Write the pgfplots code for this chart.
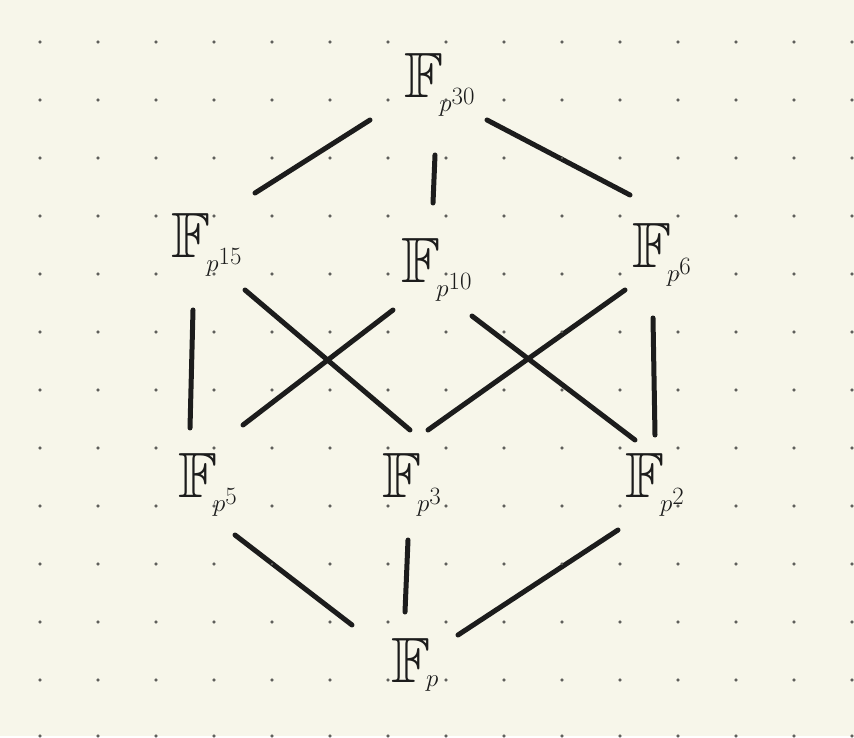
\documentclass[border=0pt]{standalone}
\usepackage{amssymb}
\usepackage{pgfplots}
\pgfplotsset{compat=1.18}
\definecolor{paper}{HTML}{F7F6EA}
\definecolor{ink}{HTML}{1C1C1C}
\definecolor{dotc}{HTML}{B8B8B0}
\begin{document}
\begin{tikzpicture}
\begin{axis}[width=854pt,height=736pt,scale only axis,hide axis,
  xmin=0,xmax=854,ymin=0,ymax=736,clip=true,
  edge/.style={color=ink,line width=5pt,line cap=round,no markers,solid}]
\addplot[fill=paper,draw=none,no markers] coordinates {(0,0)(854,0)(854,736)(0,736)} -- cycle;
\pgfplotsinvokeforeach{694,636,578,520,462,404,346,288,230,172,114,56,0}{
\addplot[only marks,mark=*,mark size=1.3pt,mark options={fill=dotc,draw=none,solid}] coordinates {(40,#1)(98,#1)(156,#1)(214,#1)(272,#1)(330,#1)(388,#1)(446,#1)(504,#1)(562,#1)(620,#1)(678,#1)(736,#1)(794,#1)(852,#1)};
}
\addplot[edge] coordinates {(370,616)(255,543)};
\addplot[edge] coordinates {(435,581)(433,533)};
\addplot[edge] coordinates {(487,616)(630,541)};
\addplot[edge] coordinates {(193,426)(190,308)};
\addplot[edge] coordinates {(245,446)(410,306)};
\addplot[edge] coordinates {(393,426)(243,311)};
\addplot[edge] coordinates {(472,420)(635,296)};
\addplot[edge] coordinates {(625,446)(428,306)};
\addplot[edge] coordinates {(653,418)(655,301)};
\addplot[edge] coordinates {(235,201)(352,111)};
\addplot[edge] coordinates {(408,196)(405,124)};
\addplot[edge] coordinates {(618,206)(458,101)};
\tikzset{lab/.style={color=ink,font=\fontsize{64}{64}\selectfont}}
\node[lab] at (axis cs:440,651) {$\mathbb{F}_{\!p^{30}}$};
\node[lab] at (axis cs:207,491) {$\mathbb{F}_{\!p^{15}}$};
\node[lab] at (axis cs:437,466) {$\mathbb{F}_{\!p^{10}}$};
\node[lab] at (axis cs:662,481) {$\mathbb{F}_{\!p^{6}}$};
\node[lab] at (axis cs:208,251) {$\mathbb{F}_{\!p^{5}}$};
\node[lab] at (axis cs:412,251) {$\mathbb{F}_{\!p^{3}}$};
\node[lab] at (axis cs:655,251) {$\mathbb{F}_{\!p^{2}}$};
\node[lab] at (axis cs:415,71) {$\mathbb{F}_{\!p}$};
\end{axis}
\end{tikzpicture}
\end{document}
